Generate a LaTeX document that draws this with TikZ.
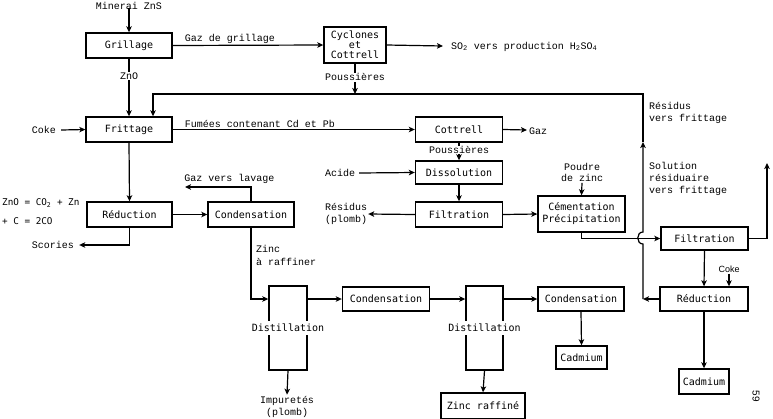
\documentclass[tikz,border=0pt]{standalone}
\usepackage{fontspec}
\setmonofont{Liberation Mono}
\newfontfamily\boxfont{DejaVu Sans Mono}
\newfontfamily\smallsans{Liberation Sans}
\usetikzlibrary{arrows.meta}

\begin{document}
\begin{tikzpicture}[x=1pt,y=-1pt,
  proc/.style={draw, line width=1.4pt, inner sep=0pt, align=center,
    font=\boxfont\fontsize{10}{10}\selectfont},
  lbl/.style={inner sep=1pt, align=center, font=\ttfamily\fontsize{10}{12}\selectfont},
  eqn/.style={inner sep=0pt, anchor=west, font=\boxfont\fontsize{9.3}{11}\selectfont},
  flow/.style={line width=1.2pt, -{Stealth[length=6pt,width=5.5pt,inset=1.5pt]}},
  pipe/.style={line width=1.2pt},
]
\useasboundingbox (0,0) rectangle (773,418);

% ---------- process boxes ----------
\node[proc, minimum width=86pt, minimum height=25pt] (grill) at (129,45.5) {Grillage};
\node[proc, minimum width=62pt, minimum height=36pt] (cyc) at (355,45) {Cyclones\\et\\Cottrell};
\node[proc, minimum width=86pt, minimum height=25pt] (fritt) at (129,129.5) {Frittage};
\node[proc, minimum width=87pt, minimum height=25pt] (cott) at (459,129.5) {Cottrell};
\node[proc, minimum width=87pt, minimum height=23pt] (diss) at (459,172.5) {Dissolution};
\node[proc, minimum width=87pt, minimum height=25pt] (filt) at (459,214.5) {Filtration};
\node[proc, minimum width=87pt, minimum height=36pt, font=\boxfont\fontsize{10}{12}\selectfont] (cem) at (581.5,214) {Cémentation\\Précipitation};
\node[proc, minimum width=85pt, minimum height=25pt] (red1) at (129.5,214.5) {Réduction};
\node[proc, minimum width=86pt, minimum height=25pt] (cond1) at (251,214.5) {Condensation};
\node[proc, minimum width=38pt, minimum height=84pt] (dist1) at (288,328) {};
\node[proc, minimum width=87pt, minimum height=24pt] (cond2) at (386,299) {Condensation};
\node[proc, minimum width=37pt, minimum height=84pt] (dist2) at (484.5,328) {};
\node[proc, minimum width=86pt, minimum height=24pt] (cond3) at (581,299) {Condensation};
\node[proc, minimum width=51pt, minimum height=23pt] (cad1) at (581.5,357.5) {Cadmium};
\node[proc, minimum width=87pt, minimum height=23pt] (filt2) at (704.5,238.5) {Filtration};
\node[proc, minimum width=88pt, minimum height=24pt] (red2) at (704,299) {Réduction};
\node[proc, minimum width=50pt, minimum height=25pt] (cad2) at (704,381.5) {Cadmium};
\node[proc, minimum width=84pt, minimum height=26pt] (zinc) at (483,406) {Zinc raffiné};

% column labels written across the distillation columns
\node[fill=white, inner xsep=1pt, inner ysep=3pt, font=\boxfont\fontsize{10}{10}\selectfont] (dist1t) at (dist1.center) {Distillation};
\node[fill=white, inner xsep=1pt, inner ysep=3pt, font=\boxfont\fontsize{10}{10}\selectfont] (dist2t) at (dist2.center) {Distillation};

% ---------- free labels ----------
\node[lbl, inner sep=0pt] (minerai) at (129,5.5) {Minerai ZnS};
\node[lbl, anchor=west] (so2) at (450,46.5) {SO\textsubscript{2} vers production H\textsubscript{2}SO\textsubscript{4}};
\node[lbl] (coke1) at (44,130) {Coke};
\node[lbl, anchor=west] (gaz) at (528,131) {Gaz};
\node[lbl, inner sep=0pt] (pous2) at (459,150) {Poussières};
\node[lbl] (acide) at (340,173) {Acide};
\node[lbl] (resid1) at (346,214) {Résidus\\(plomb)};
\node[lbl, font=\ttfamily\fontsize{10}{11}\selectfont] (poudre) at (582,172.5) {Poudre\\de zinc};
\node[lbl, anchor=west, align=left] (residfr) at (648,113) {Résidus\\vers frittage};
\node[lbl, anchor=west, align=left] (solres) at (648,179) {Solution\\résiduaire\\vers frittage};
\node[inner sep=1pt, font=\smallsans\fontsize{9}{10}\selectfont] (coke2) at (729,269) {Coke};
\node[eqn] (eq1) at (2,203) {ZnO = CO\textsubscript{2} + Zn};
\node[eqn] (eq2) at (2,221) {+ C = 2CO};
\node[lbl] (scor) at (53,245) {Scories};
\node[lbl] (lavage) at (229.5,179) {Gaz vers lavage};
\node[lbl, anchor=west, align=left, font=\ttfamily\fontsize{10}{12.5}\selectfont] (zraf) at (255,255.5) {Zinc\\à raffiner};
\node[lbl] (impur) at (287,406.5) {Impuretés\\(plomb)};
\node[inner sep=0pt, rotate=-90, font=\smallsans\fontsize{10}{10}\selectfont] (pageno) at (756,396) {59};

% ---------- route points ----------
\coordinate (so2end) at (443,46);
\coordinate (loopB) at (643,94);
\coordinate (fritin) at (153,94);
\coordinate (loopmid) at (643,142);
\coordinate (hopA) at (643,244);
\coordinate (hopB) at (643,232);
\coordinate (lavend) at (185,187);
\coordinate (solup) at (767,163);
\coordinate (cotgaz) at (527,130);

% ---------- roasting line ----------
\draw[flow] ([yshift=1pt]minerai.south) -- (grill.north);
\draw[flow] (grill.east) -- node[lbl, above, pos=0.38] (gazgr) {Gaz de grillage} (cyc.west);
\draw[flow] (cyc.east) -- (so2end);
\draw[flow] (grill.south) -- node[lbl, fill=white, pos=0.3] (zno) {ZnO} (fritt.north);
\draw[flow] (cyc.south) -- node[lbl, fill=white, pos=0.45] (pous1) {Poussières} (cyc.south |- loopB);

% residue return to sintering, hopping over the solution line
\draw[flow] (red2.west) -- (red2.west -| loopB);
\draw[flow] (red2.west -| loopB) -- (hopA) .. controls (636,244) and (636,232) .. (hopB) -- (loopmid);
\draw[flow] (loopmid) -- (loopB) -- (fritin) -- (fritin |- fritt.north);

% ---------- sintering and fume treatment ----------
\draw[flow] ([xshift=4pt]coke1.east) -- (fritt.west);
\draw[flow] (fritt.east) -- node[lbl, above, pos=0.36] (fumees) {Fumées contenant Cd et Pb} (cott.west);
\draw[flow] (cott.east) -- (cotgaz);
\draw[pipe] (cott.south) -- (pous2.north);
\draw[flow] (pous2.south) -- (diss.north);
\draw[flow] ([xshift=3pt]acide.east) -- (diss.west);
\draw[flow] (diss.south) -- (filt.north);
\draw[flow] (filt.west) -- (resid1.east);
\draw[flow] (filt.east) -- (cem.west);
\draw[flow] (poudre.south) -- (cem.north);
\draw[flow] (cem.south) |- (filt2.west);
\draw[flow] (filt2.east) -| (solup);
\draw[flow] (filt2.south) -- (red2.north);
\draw[flow] (coke2.south) -- (coke2.south |- red2.north);
\draw[flow] (red2.south) -- (cad2.north);

% ---------- zinc reduction and refining ----------
\draw[flow] (fritt.south) -- (red1.north);
\draw[flow] (red1.east) -- (cond1.west);
\draw[flow] (red1.south) |- ([xshift=4pt]scor.east);
\draw[flow] (cond1.north) |- (lavend);
\draw[flow] (cond1.south) |- (dist1.west |- cond2.west);
\draw[flow] (dist1.east |- cond2.west) -- (cond2.west);
\draw[flow] (cond2.east) -- (dist2.west |- cond2.east);
\draw[flow] (dist2.east |- cond3.west) -- (cond3.west);
\draw[flow] (cond3.south) -- (cad1.north);
\draw[flow] (dist1.south) -- (impur.north);
\draw[flow] (dist2.south) -- (zinc.north);
\end{tikzpicture}
\end{document}
